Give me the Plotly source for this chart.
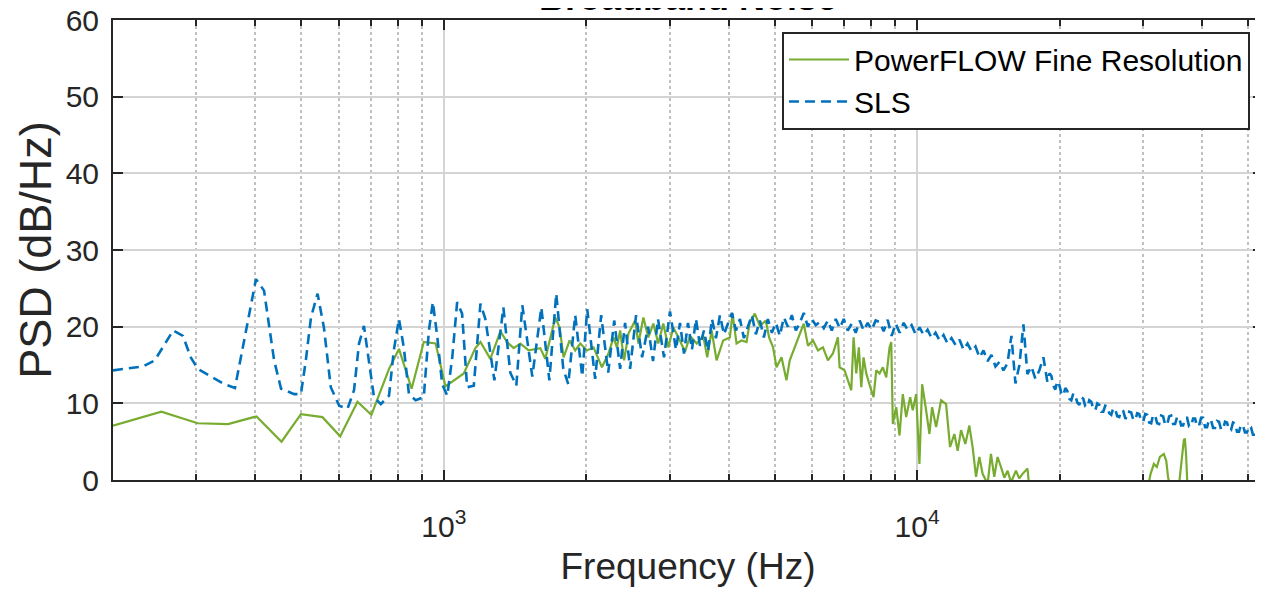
import plotly.graph_objects as go
import math

# ---------------- data ----------------
pf_freq = [200, 253, 302, 350, 402, 454, 499, 554, 604, 657, 703, 766, 804, 855, 907, 961,
           1008, 1102, 1166, 1195, 1254, 1317, 1360, 1405, 1451, 1511, 1599, 1638, 1720, 1756,
           1791, 1844, 1895, 1942, 2006, 2072, 2158, 2228, 2283, 2321, 2358, 2404, 2455, 2536,
           2577, 2640, 2705, 2771, 2839, 2909, 2981, 3054, 3155, 3232, 3312, 3422, 3533, 3602,
           3680, 3770, 3892, 4021, 4074, 4154, 4256, 4361, 4431, 4540, 4652, 4790, 4867, 4962,
           5045, 5170, 5296, 5381, 5513, 5648, 5760, 5881, 6026, 6173, 6324, 6480, 6639, 6802,
           6858, 7027, 7199, 7259, 7341, 7438, 7532, 7621, 7706, 7808, 7962, 8090, 8197, 8330,
           8464, 8606, 8744, 8817, 8886, 9034, 9178, 9327, 9482, 9667, 9790, 9952, 10113, 10247,
           10447, 10617, 10757, 10968, 11237, 11513, 11738, 11986, 12179, 12383, 12645, 12892,
           13100, 13319, 13535, 13753, 14093, 14322, 14555, 14790, 15037, 15282, 15528, 15787,
           16174, 16437, 16702, 17112, 17254, 18110, 20000, 22500, 25000, 28000, 30590, 31140,
           31640, 32100, 32570, 33210, 33600, 33900, 34500, 35730, 36260, 36600, 36790, 37000,
           37200, 37700, 43380, 48000, 53450]
pf_psd = [7.1, 8.9, 7.4, 7.3, 8.3, 5.0, 8.6, 8.2, 5.7, 10.2, 8.5, 14.5, 17.1, 11.9, 18.0, 17.8,
          12.2, 13.9, 17.2, 18.0, 15.8, 19.4, 18.0, 17.2, 17.8, 16.9, 17.2, 15.8, 21.2, 19.9,
          16.0, 18.2, 16.9, 17.8, 16.9, 17.3, 14.7, 16.5, 18.6, 17.3, 19.5, 15.6, 19.1, 20.8,
          17.8, 21.2, 18.6, 20.4, 17.8, 20.4, 17.3, 19.9, 18.2, 16.7, 18.8, 17.8, 18.8, 16.0,
          19.5, 15.6, 18.2, 18.6, 21.7, 17.8, 18.2, 18.0, 20.6, 21.7, 20.1, 20.8, 18.6, 17.3,
          14.7, 16.0, 13.0, 15.6, 17.3, 19.1, 20.4, 17.5, 18.2, 16.9, 17.3, 15.6, 16.5, 18.6,
          14.7, 14.3, 12.5, 11.7, 18.6, 13.9, 17.3, 12.1, 16.0, 13.9, 12.1, 10.8, 14.3, 13.9,
          14.7, 13.4, 17.3, 18.0, 7.3, 9.5, 5.8, 11.2, 8.2, 10.8, 9.1, 11.2, 2.1, 12.5,
          9.1, 6.0, 9.5, 6.9, 10.4, 9.9, 4.3, 6.0, 3.8, 6.5, 4.7, 7.1,
          4.3, 0.4, 3.0, 0.8, -0.5, 3.4, 0.4, 3.0, 1.7, 0.3, 1.2, -0.3,
          1.2, 0.2, 0.8, 1.5, -1.0, -3.5, -5.0, -4.0, -6.0, -3.5, -1.5, 0.8,
          2.1, 1.7, 3.0, 3.4, 2.5, 0.4, -2.0, -0.8, 2.5, 5.2, 5.4, 3.4,
          0.0, -3.0, -4.0, -5.0, -4.5]

sls_freq = [200, 231, 245, 268, 281, 292, 302, 344, 362, 379, 401, 417, 438, 453, 483, 499,
            511, 524, 541, 558, 577, 601, 626, 646, 662, 678, 695, 712, 736, 766, 784, 804,
            823, 844, 872, 907, 930, 948, 969, 992, 1017, 1042, 1067, 1093, 1120, 1157, 1195,
            1224, 1279, 1336, 1382, 1423, 1465, 1538, 1607, 1671, 1728, 1788, 1832, 1895, 1961,
            2009, 2088, 2150, 2225, 2291, 2358, 2415, 2475, 2548, 2624, 2701, 2767, 2835, 2919,
            3005, 3094, 3155,
            3217, 3280, 3344, 3410, 3477, 3545, 3615, 3686, 3758, 3832, 3907, 3984, 4062, 4142,
            4223, 4306, 4390, 4476, 4564, 4654, 4745, 4838, 4933, 5030, 5128, 5229, 5332, 5436,
            5543, 5651, 5762, 5875, 5991, 6108, 6228, 6350, 6475, 6602, 6731, 6863, 6998, 7135,
            7275, 7418, 7563, 7712, 7863, 8017, 8175, 8335,
            8498, 8665, 8835, 9008, 9185, 9365, 9549, 9736, 9927, 10122, 10320, 10523, 10729,
            10940, 11154, 11373, 11596, 11823, 12055, 12292, 12533, 12779, 13029, 13285, 13545,
            13811, 14082, 14358, 14640, 14927, 15219, 15518, 15822, 16133, 16449, 16772, 17101,
            17436, 17778, 18127, 18482,
            18845, 19029, 19214, 19401, 19591, 19782, 19975, 20170, 20367, 20566, 20767, 20969,
            21174, 21381, 21589, 21800, 22013, 22227, 22444, 22663, 22885, 23108, 23333, 23561,
            23791, 24023, 24258, 24494, 24733, 24975, 25218, 25464, 25713, 25964, 26217, 26473,
            26732, 26992, 27256, 27522, 27790, 28062, 28335, 28612, 28891, 29173, 29458, 29745,
            30035, 30328, 30624, 30923, 31225, 31529, 31837, 32148, 32462, 32778, 33098, 33421,
            33747, 34076, 34409, 34744, 35084, 35426, 35772, 36121, 36474, 36829, 37189, 37552,
            37918, 38288, 38662, 39039, 39420, 39805, 40193, 40585, 40982, 41382, 41785, 42193,
            42605, 43021, 43440, 43864, 44292, 44724, 45161, 45601, 46047, 46496, 46950, 47408,
            47871, 48338, 48810, 49286, 49767, 50252, 50743, 51238, 51738, 52243, 52753, 53268,
            53788]
sls_psd = [14.3, 14.8, 15.6, 19.5, 18.8, 16.0, 14.5, 12.5, 12.0, 18.2, 26.2, 24.7, 15.6, 11.9, 11.2, 11.2,
           15.6, 21.2, 24.3, 19.9, 12.1, 9.7, 9.3, 11.7, 17.8, 20.1, 15.6, 10.8, 9.9, 11.0, 16.9, 21.0,
           17.3, 11.2, 10.4, 10.8, 19.5, 23.2, 18.6, 12.5, 11.0, 16.0, 23.2, 21.7, 12.1, 12.3, 23.0,
           21.0, 13.0, 22.5, 14.0, 12.3, 22.8, 13.5, 22.5, 13.0, 24.3, 14.5, 12.5, 21.5, 13.5,
           22.3, 13.2, 21.5, 14.0, 20.8, 14.5, 20.5, 14.5, 21.5, 16.0, 20.0, 15.5, 21.0, 16.0,
           22.0, 17.0, 20.5,
           16.5, 20.5, 17.0, 21.0, 17.5, 19.5, 16.8, 21.0, 18.5, 21.5, 19.0, 20.5, 21.8, 19.5,
           21.0, 18.5, 20.0, 21.5, 19.0, 20.8, 18.6, 21.0, 19.2, 20.5, 18.8, 21.2, 20.0, 21.5,
           19.5, 20.5, 21.8, 20.0, 21.0, 20.2, 20.6, 19.8, 20.8, 19.5, 21.0, 19.8, 21.0, 19.5,
           20.4, 19.2, 20.8, 19.5, 20.5, 19.6, 20.8, 20.6,
           19.4, 20.9, 18.8, 20.4, 19.2, 20.5, 19.6, 20.2, 19.0, 19.9, 18.9, 19.6, 18.5,
           19.2, 18.2, 18.9, 17.8, 18.5, 17.6, 18.3, 17.0, 17.8, 16.8, 17.4, 16.0,
           16.9, 15.5, 16.3, 14.8, 15.4, 14.3, 15.2, 18.8, 12.6, 15.0, 20.3, 13.8,
           14.8, 13.2, 14.3, 16.0,
           12.8, 13.9, 13.6, 12.3, 11.8, 12.9, 12.4, 11.3, 11.0, 12.0, 11.6, 10.6,
           10.4, 11.3, 11.0, 10.1, 9.8, 10.8, 10.6, 9.6, 9.5, 10.4, 10.2, 9.3,
           9.1, 10.0, 9.8, 8.9, 8.9, 9.7, 9.6, 8.7, 8.5, 9.4, 9.2, 8.3,
           8.2, 9.1, 9.0, 8.1, 8.0, 8.9, 8.8, 7.9, 7.8, 8.7, 8.6, 7.7,
           7.6, 8.6, 8.5, 7.5, 7.4, 8.5, 8.4, 7.4, 7.3, 8.4, 8.3, 7.2,
           7.2, 8.3, 8.4, 7.3, 7.3, 8.2, 8.2, 7.1, 7.1, 8.1, 8.1, 7.0,
           7.0, 8.0, 8.0, 7.0, 7.1, 8.1, 8.1, 6.9, 6.9, 7.9, 7.8, 6.8,
           6.8, 7.7, 7.6, 6.6, 6.6, 7.6, 7.5, 6.5, 6.5, 7.5, 7.4, 6.3,
           6.3, 7.2, 7.1, 6.2, 6.2, 7.0, 6.9, 5.9, 5.9, 6.8, 6.7, 5.8,
           5.8]

x_major = [1000, 10000]
x_major_labels = ["10<sup>3</sup>", "10<sup>4</sup>"]
x_minor = [200, 300, 400, 500, 600, 700, 800, 900,
           2000, 3000, 4000, 5000, 6000, 7000, 8000, 9000,
           20000, 30000, 40000, 50000]
x_limits = [200, 53800]
y_limits = [0, 60]

GREEN = "#77AC30"
BLUE = "#0072BD"
FONT = "Liberation Sans, Arial, Helvetica, sans-serif"

fig = go.Figure()
fig.add_trace(go.Scatter(x=pf_freq, y=pf_psd, mode="lines", name="PowerFLOW Fine Resolution",
                         line=dict(color=GREEN, width=2.2)))
fig.add_trace(go.Scatter(x=sls_freq, y=sls_psd, mode="lines", name="SLS",
                         line=dict(color=BLUE, width=2.6, dash="10px,6px")))

fig.update_layout(
    width=1263, height=592,
    margin=dict(l=105, r=8, t=12, b=120, autoexpand=False),
    paper_bgcolor="white", plot_bgcolor="white",
    font=dict(family=FONT, color="#262626", size=30),
    showlegend=True,
    legend=dict(x=0.9887, xanchor="right", y=0.975, yanchor="top",
                bgcolor="white", bordercolor="#262626", borderwidth=2,
                itemwidth=60,
                font=dict(size=30, color="#000000"), tracegroupgap=0),
    annotations=[dict(text="<b>Broadband Noise</b>", xref="paper", yref="paper",
                      x=0.5, y=1.0, xanchor="center", yanchor="bottom", showarrow=False,
                      font=dict(size=36, color="#000000", family=FONT))],
)

fig.update_xaxes(
    type="log", range=[math.log10(x_limits[0]), math.log10(x_limits[1])],
    automargin=False,
    tickmode="array", tickvals=x_major, ticktext=x_major_labels,
    ticks="inside", ticklen=10, tickwidth=2, tickcolor="#262626",
    ticklabelstandoff=19, ticklabeloverflow="allow",
    showline=True, linewidth=2, linecolor="#262626", mirror="allticks",
    showgrid=True, gridcolor="#d4d4d4", gridwidth=2,
    minor=dict(tickmode="array", tickvals=x_minor, ticks="inside", ticklen=6,
               tickwidth=1.5, tickcolor="#262626", showgrid=True,
               gridcolor="#c0c0c0", griddash="dot", gridwidth=1.5),
    tickfont=dict(size=30, color="#262626"),
    title=dict(text="Frequency (Hz)", font=dict(size=37, color="#262626"), standoff=11),
    zeroline=False,
)
fig.update_yaxes(
    range=y_limits, tickmode="linear", tick0=0, dtick=10,
    automargin=False,
    ticks="inside", ticklen=10, tickwidth=2, tickcolor="#262626",
    ticklabelstandoff=6, ticklabeloverflow="allow",
    showline=True, linewidth=2, linecolor="#262626", mirror="allticks",
    showgrid=True, gridcolor="#d4d4d4", gridwidth=2,
    tickfont=dict(size=30, color="#262626"),
    title=dict(text="PSD (dB/Hz)", font=dict(size=45, color="#262626"), standoff=0),
    zeroline=False,
)

fig.write_html("out.html")
